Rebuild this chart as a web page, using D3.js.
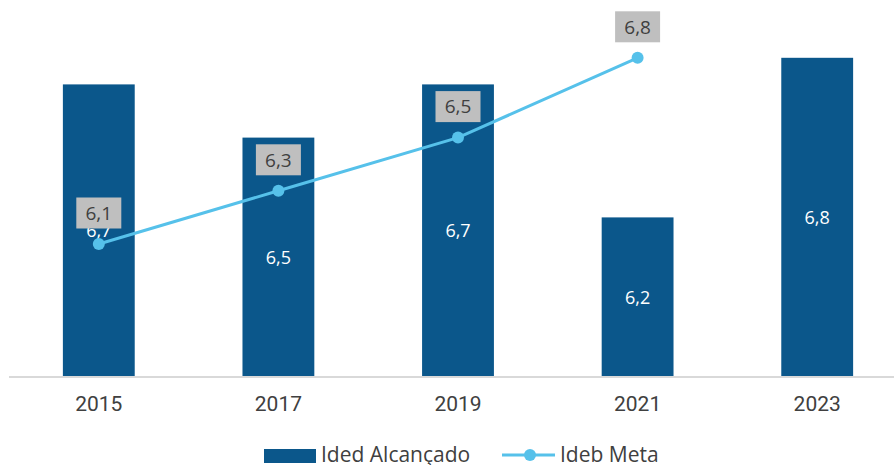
<!DOCTYPE html>
<html><head><meta charset="utf-8">
<script src="https://cdn.jsdelivr.net/npm/d3@7"></script>
<style>body{margin:0;background:#fff;}svg{display:block;}</style>
</head><body>
<svg id="chart" width="894" height="465"></svg>
<script>
const categories = ["2015","2017","2019","2021","2023"];
const alcancado = [6.7, 6.5, 6.7, 6.2, 6.8];
const meta = [6.1, 6.3, 6.5, 6.8, null];
const seriesNames = ["Ided Alcançado", "Ideb Meta"];

const fmt = v => String(v.toFixed(1)).replace(".", ",");
const svg = d3.select("#chart");
const barColor = "#0b578b", lineColor = "#56c1ea";

const x = d3.scaleBand().domain(categories).range([9, 907]).paddingInner(0.6).paddingOuter(0.3);
const y = d3.scaleLinear().domain([5.6, 7.0]).range([377, 4.6]);

// bars
svg.selectAll("rect.bar").data(alcancado).enter().append("rect")
  .attr("x", (d,i) => x(categories[i]))
  .attr("width", x.bandwidth())
  .attr("y", d => y(d))
  .attr("height", d => y(5.6) - y(d))
  .attr("fill", barColor);

// axis
const ax = svg.append("g").attr("transform", "translate(0,377)")
  .call(d3.axisBottom(x).tickSize(0).tickPadding(19));
ax.select(".domain").attr("stroke", "#d9d9d9").attr("stroke-width", 2).attr("d", "M9,0H894");
ax.selectAll("text").attr("font-family", "Roboto").attr("font-size", 21).attr("fill", "#404040");

// bar labels
svg.selectAll("text.bl").data(alcancado).enter().append("text")
  .attr("x", (d,i) => x(categories[i]) + x.bandwidth()/2)
  .attr("y", d => (y(d) + y(5.6))/2)
  .attr("dy", "0.35em")
  .attr("text-anchor", "middle")
  .attr("font-family", "Open Sans").attr("font-size", 18).attr("fill", "#ffffff")
  .text(d => fmt(d));

// line
const pts = meta.map((v,i) => ({v, c: categories[i]})).filter(d => d.v != null);
const cx = d => x(d.c) + x.bandwidth()/2;
svg.append("path").datum(pts)
  .attr("d", d3.line().x(cx).y(d => y(d.v)))
  .attr("fill", "none").attr("stroke", lineColor).attr("stroke-width", 3);
svg.selectAll("circle.pt").data(pts).enter().append("circle")
  .attr("cx", cx).attr("cy", d => y(d.v)).attr("r", 6).attr("fill", lineColor);

// line labels
const lg = svg.selectAll("g.ll").data(pts).enter().append("g")
  .attr("transform", d => `translate(${cx(d)},${y(d.v) - 31})`);
lg.append("rect").attr("x", -22.5).attr("y", -15.5).attr("width", 45).attr("height", 31).attr("fill", "#bfbfbf");
lg.append("text").attr("text-anchor", "middle").attr("dy", "0.36em")
  .attr("font-family", "Open Sans").attr("font-size", 19).attr("fill", "#404040")
  .text(d => fmt(d.v));

// legend
const leg = svg.append("g");
leg.append("rect").attr("x", 264).attr("y", 449).attr("width", 52).attr("height", 14).attr("fill", barColor);
leg.append("text").attr("x", 321).attr("y", 462).attr("font-family", "Open Sans").attr("font-size", 21).attr("fill", "#404040").text(seriesNames[0]);
leg.append("line").attr("x1", 502).attr("x2", 555).attr("y1", 455).attr("y2", 455).attr("stroke", lineColor).attr("stroke-width", 3);
leg.append("circle").attr("cx", 530).attr("cy", 455).attr("r", 6).attr("fill", lineColor);
leg.append("text").attr("x", 560).attr("y", 462).attr("font-family", "Open Sans").attr("font-size", 21).attr("fill", "#404040").text(seriesNames[1]);
</script>
</body></html>
